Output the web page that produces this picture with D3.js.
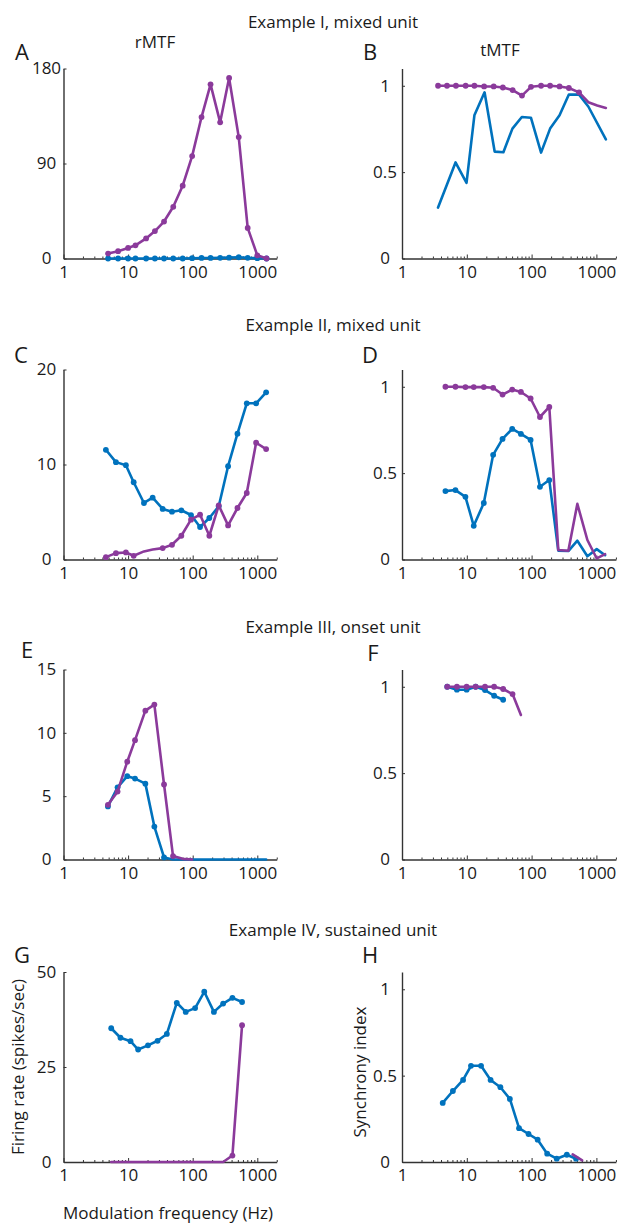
<!DOCTYPE html>
<html>
<head>
<meta charset="utf-8">
<title>rMTF / tMTF examples</title>
<style>
body { margin: 0; background: #fff; }
svg text { font-family: "Open Sans", "Noto Sans", sans-serif; fill: #1a1a1a; }
.line { fill: none; stroke-width: 2.6px; stroke-linejoin: round; stroke-linecap: round; }
</style>
<script src="https://cdn.jsdelivr.net/npm/d3@7"></script>
</head>
<body>
<svg width="618" height="1223"></svg>
<script>
var blue = "#0072bd", purple = "#8b3a9b";

// Example I
var aFreq   = [4.9, 7.0, 10, 13, 19, 26, 36, 50, 70, 98, 137, 189, 266, 366, 516, 710, 1000, 1390];
var aPurple = [4.7, 6.9, 10, 12.5, 19, 26, 35, 49, 69, 97, 134, 165, 129, 171, 115, 29, 3, 0];
var aBlue   = [0, 0, 0, 0, 0, 0, 0, 0, 0, 0.3, 0.5, 0.5, 0.6, 0.8, 1.2, 0.6, 0.3, 0];
var bFreq   = [3.6, 4.95, 6.8, 9.6, 13.1, 18.5, 26, 36, 51, 71, 98, 140, 193, 270, 376, 540, 750, 1030, 1400];
var bPurple = [1, 1, 1, 1, 1, 0.996, 0.996, 0.99, 0.975, 0.943, 0.994, 1, 1, 0.996, 0.987, 0.962, 0.905, 0.886, 0.872];
var bBlueFreq = [3.6, 6.7, 9.9, 13.1, 18.8, 26.9, 36.7, 50.6, 70.7, 97.6, 140, 193, 270, 376, 540, 750, 1400];
var bBlue     = [0.295, 0.556, 0.438, 0.829, 0.962, 0.619, 0.615, 0.752, 0.819, 0.815, 0.613, 0.752, 0.829, 0.949, 0.949, 0.88, 0.69];

// Example II
var cFreq   = [4.53, 6.48, 9.25, 12.2, 17.6, 24, 34.3, 47.8, 66.7, 94.2, 130, 181, 253, 353, 493, 687, 959, 1370];
var cBlue   = [11.55, 10.25, 9.93, 8.13, 5.95, 6.51, 5.32, 5.03, 5.18, 4.68, 3.42, 4.37, 5.6, 9.82, 13.24, 16.44, 16.44, 17.6];
var cPurple = [0.25, 0.67, 0.74, 0.39, 0.85, 1.05, 1.2, 1.55, 2.5, 4.19, 4.72, 2.5, 5.7, 3.59, 5.42, 7.0, 12.29, 11.62];
var dFreq   = [4.68, 6.68, 9.53, 12.8, 18.3, 25.5, 35.6, 50.2, 68.4, 96.5, 134.6, 187.6, 258, 369, 508, 726, 1012, 1361];
var dPurple = [1, 1, 0.998, 0.998, 0.998, 0.994, 0.955, 0.984, 0.97, 0.932, 0.825, 0.883, 0.055, 0.051, 0.322, 0.113, 0.006, 0.031];
var dBlue   = [0.396, 0.402, 0.363, 0.195, 0.327, 0.606, 0.698, 0.756, 0.727, 0.692, 0.421, 0.46, 0.051, 0.049, 0.109, 0.019, 0.06, 0.025];

// Example III
var eFreq   = [4.87, 6.87, 9.7, 12.8, 18.5, 25.5, 36, 49.6, 70, 98, 137, 190, 266, 366, 516, 710, 1000, 1370];
var eBlue   = [4.19, 5.7, 6.58, 6.39, 5.99, 2.6, 0.16, 0, 0, 0, 0, 0, 0, 0, 0, 0, 0, 0];
var ePurple = [4.32, 5.36, 7.72, 9.42, 11.75, 12.23, 5.92, 0.27, 0.05, 0];
var fFreq   = [4.99, 7.04, 9.94, 13.7, 19.1, 26.4, 36.4, 50.8, 68.4];
var fPurple = [1, 1, 1, 1, 1, 1, 0.987, 0.958, 0.837];
var fBlue   = [1, 0.983, 0.983, 1, 0.981, 0.948, 0.925];

// Example IV
var gFreq   = [5.48, 7.62, 10.9, 14.3, 20.3, 28.6, 39.8, 56.7, 78, 109, 151, 213, 296, 412, 581];
var gBlue   = [35.2, 32.7, 31.8, 29.6, 30.7, 31.9, 33.7, 41.9, 39.5, 40.5, 44.8, 39.5, 41.7, 43.2, 42.1];
var gPurple = [0, 0, 0, 0, 0, 0, 0, 0, 0, 0, 0, 0, 0, 1.7, 36];
var hFreq   = [4.25, 6.1, 8.76, 11.6, 16.6, 23.3, 33, 46.2, 64, 89.7, 124, 174, 244, 350, 485];
var hBlue   = [0.342, 0.411, 0.475, 0.557, 0.557, 0.475, 0.433, 0.365, 0.196, 0.162, 0.129, 0.048, 0.019, 0.042, 0.019];
var hPurpleFreq = [430, 603];
var hPurple     = [0.044, 0.0095];

var titles = ["Example I, mixed unit", "Example II, mixed unit", "Example III, onset unit", "Example IV, sustained unit"];
var xTicks = [1, 10, 100, 1000];
var syncTicks = [0, 0.5, 1];

var panels = [
  {id: "A", col: 0, row: 0, top: 180, ticks: [0, 90, 180], series: [
    {f: aFreq, v: aBlue, c: blue, dots: [0, 18]},
    {f: aFreq, v: aPurple, c: purple, dots: [0, 18]}]},
  {id: "B", col: 1, row: 0, top: 1.1, ticks: syncTicks, series: [
    {f: bBlueFreq, v: bBlue, c: blue, dots: [0, 0]},
    {f: bFreq, v: bPurple, c: purple, dots: [0, 16]}]},
  {id: "C", col: 0, row: 1, top: 20, ticks: [0, 10, 20], series: [
    {f: cFreq, v: cBlue, c: blue, dots: [0, 18]},
    {f: cFreq, v: cPurple, c: purple, dots: [0, 18], skip: [4, 5]}]},
  {id: "D", col: 1, row: 1, top: 1.1, ticks: syncTicks, series: [
    {f: dFreq, v: dBlue, c: blue, dots: [0, 12]},
    {f: dFreq, v: dPurple, c: purple, dots: [0, 12]}]},
  {id: "E", col: 0, row: 2, top: 15, ticks: [0, 5, 10, 15], series: [
    {f: eFreq, v: eBlue, c: blue, dots: [0, 7]},
    {f: eFreq, v: ePurple, c: purple, dots: [0, 8]}]},
  {id: "F", col: 1, row: 2, top: 1.1, ticks: syncTicks, series: [
    {f: fFreq, v: fBlue, c: blue, dots: [0, 7]},
    {f: fFreq, v: fPurple, c: purple, dots: [0, 8]}]},
  {id: "G", col: 0, row: 3, top: 50, ticks: [0, 25, 50], series: [
    {f: gFreq, v: gBlue, c: blue, dots: [0, 15]},
    {f: gFreq, v: gPurple, c: purple, dots: [13, 15]}]},
  {id: "H", col: 1, row: 3, top: 1.1, ticks: syncTicks, series: [
    {f: hFreq, v: hBlue, c: blue, dots: [0, 15]},
    {f: hPurpleFreq, v: hPurple, c: purple, dots: [0, 0]}]}
];

var svg = d3.select("svg"),
    colX = [63.5, 402],
    decade = [64.6, 64.8],
    rowBottom = [258.5, 559.5, 859.5, 1162],
    plotH = 190,
    letterPos = {A: [22, 52], B: [370, 52], C: [21, 355], D: [370, 355],
                 E: [27, 650], F: [373, 653], G: [22, 955], H: [370, 955]};

var minors = [];
[1, 10, 100, 1000].forEach(function(d) {
  for (var k = 2; k <= 9; k++) if (d * k <= 2000) minors.push(d * k);
});

panels.forEach(function(p) {
  var x0 = colX[p.col], y0 = rowBottom[p.row];
  var x = d3.scaleLog().domain([1, 2000]).range([x0, x0 + Math.log10(2000) * decade[p.col]]);
  var y = d3.scaleLinear().domain([0, p.top]).range([y0, y0 - plotH]);
  var g = svg.append("g");

  g.append("g")
      .attr("transform", "translate(0," + y0 + ")")
      .call(d3.axisBottom(x).tickValues(minors).tickSize(-2).tickSizeOuter(0).tickFormat(""))
      .call(function(s) { s.select(".domain").remove(); s.selectAll("line").attr("stroke", "#333"); });

  var xa = g.append("g")
      .attr("transform", "translate(0," + y0 + ")")
      .call(d3.axisBottom(x).tickValues(xTicks).tickSize(-4).tickSizeOuter(0).tickPadding(7).tickFormat(d3.format("d")));
  xa.select(".domain").attr("stroke", "#333").attr("stroke-width", 1.4);
  xa.selectAll("line").attr("stroke", "#333");
  xa.selectAll("text").attr("font-size", 17).attr("font-family", null).attr("dy", "0.71em");

  var ya = g.append("g")
      .attr("transform", "translate(" + x0 + ",0)")
      .call(d3.axisLeft(y).tickValues(p.ticks).tickSize(-3).tickSizeOuter(0).tickFormat(d3.format("")));
  ya.select(".domain").attr("stroke", "#333").attr("stroke-width", 1.4);
  ya.selectAll("line").attr("stroke", "#333");
  ya.selectAll("text").attr("font-size", 17).attr("font-family", null)
      .attr("text-anchor", "middle").attr("x", -17);

  var line = d3.line()
      .x(function(d) { return x(d.f); })
      .y(function(d) { return y(d.v); });

  p.series.forEach(function(s) {
    var pts = s.f.map(function(f, i) { return {f: f, v: s.v[i], i: i}; });
    g.append("path")
        .datum(pts)
        .attr("class", "line")
        .attr("stroke", s.c)
        .attr("d", line);
    g.selectAll(null)
        .data(pts.filter(function(d) {
          return d.i >= s.dots[0] && d.i < s.dots[1] && !(s.skip && s.skip.indexOf(d.i) >= 0);
        }))
        .enter().append("circle")
        .attr("cx", function(d) { return x(d.f); })
        .attr("cy", function(d) { return y(d.v); })
        .attr("r", 2.9)
        .attr("fill", s.c);
  });

  svg.append("text")
      .attr("x", letterPos[p.id][0])
      .attr("y", letterPos[p.id][1])
      .attr("dy", "0.35em")
      .attr("text-anchor", "middle")
      .attr("font-size", 22)
      .text(p.id);
});

titles.forEach(function(t, i) {
  svg.append("text")
      .attr("x", 333)
      .attr("y", [22, 325, 627, 930][i])
      .attr("dy", "0.35em")
      .attr("text-anchor", "middle")
      .attr("font-size", 17)
      .text(t);
});

svg.append("text").attr("x", 155).attr("y", 42).attr("dy", "0.35em")
    .attr("text-anchor", "middle").attr("font-size", 17).text("rMTF");
svg.append("text").attr("x", 500).attr("y", 50).attr("dy", "0.35em")
    .attr("text-anchor", "middle").attr("font-size", 17).text("tMTF");

svg.append("text").attr("x", 168).attr("y", 1213).attr("dy", "0.35em")
    .attr("text-anchor", "middle").attr("font-size", 17).text("Modulation frequency (Hz)");
svg.append("text").attr("transform", "translate(18,1067) rotate(-90)").attr("dy", "0.35em")
    .attr("text-anchor", "middle").attr("font-size", 17).text("Firing rate (spikes/sec)");
svg.append("text").attr("transform", "translate(360,1072) rotate(-90)").attr("dy", "0.35em")
    .attr("text-anchor", "middle").attr("font-size", 17).text("Synchrony index");
</script>
</body>
</html>
